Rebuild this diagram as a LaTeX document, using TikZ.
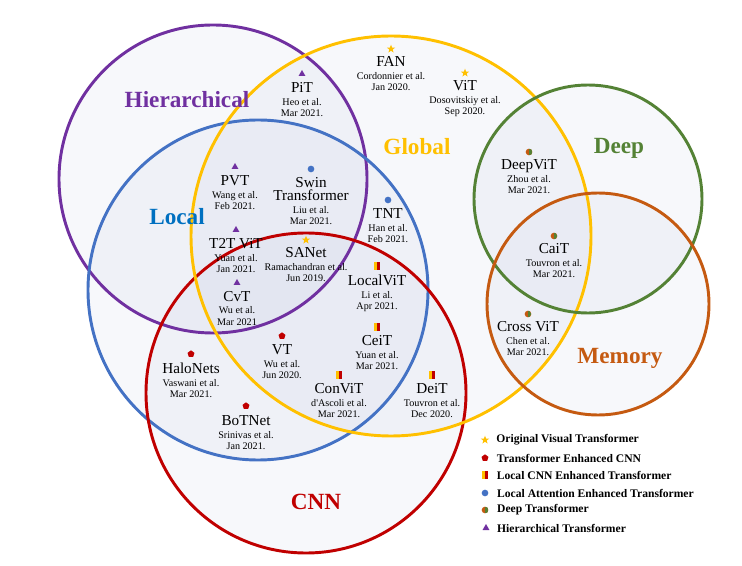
\documentclass[tikz,border=0pt]{standalone}
\usepackage{fontspec}
\setmainfont{Liberation Serif}
\usetikzlibrary{shapes.geometric}

\definecolor{hierpurple}{HTML}{7030A0}
\definecolor{globyellow}{HTML}{FFC000}
\definecolor{locblue}{HTML}{4472C4}
\definecolor{loclabel}{HTML}{0070C0}
\definecolor{cnnred}{HTML}{C00000}
\definecolor{deepgreen}{HTML}{548235}
\definecolor{memorange}{HTML}{C55A11}
\definecolor{venn}{RGB}{165,175,210}

\newcommand\modelfont{\fontsize{11.4}{13}\selectfont}

\tikzset{
    ring/.style={line width=2.2pt},
    area/.style={fill=venn, fill opacity=0.09},
    cat/.style={font=\fontsize{17.4}{20}\selectfont\bfseries, inner sep=0pt},
    entry/.style={font=\fontsize{7.6}{8.4}\selectfont, align=center, inner sep=0pt, label distance=#1},
    entry/.default=3.6pt,
    legtext/.style={font=\fontsize{8.7}{10}\selectfont\bfseries, inner sep=0pt, label distance=6.2pt},
    ovt/.style={star, star points=5, star point ratio=2.4, fill=globyellow, inner sep=0pt, minimum size=6.5pt},
    tecnn/.style={regular polygon, regular polygon sides=5, fill=cnnred, inner sep=0pt, minimum size=5.5pt},
    lcnn/.style={rectangle, fill=globyellow, inner sep=0pt, minimum width=4.5pt, minimum height=5.5pt,
        path picture={\fill[cnnred] (path picture bounding box.north) rectangle (path picture bounding box.south east);}},
    lattn/.style={circle, fill=locblue, inner sep=0pt, minimum size=5pt},
    deept/.style={circle, fill=memorange, inner sep=0pt, minimum size=5pt,
        path picture={\fill[deepgreen] (path picture bounding box.north) rectangle (path picture bounding box.south east);}},
    hiert/.style={regular polygon, regular polygon sides=3, fill=hierpurple, inner sep=0pt, minimum size=6pt}
}

\begin{document}
\begin{tikzpicture}[x=0.75pt, y=-0.75pt]
    \useasboundingbox (0,0) rectangle (742,566);
    % circles
    \fill[area] (213,179) circle[radius=154];
    \fill[area] (391,236) circle[radius=200];
    \fill[area] (258,290) circle[radius=170];
    \fill[area] (306,393) circle[radius=160];
    \fill[area] (588,199) circle[radius=114];
    \fill[area] (598,304) circle[radius=111];
    \draw[ring, hierpurple] (213,179) circle[radius=154];
    \draw[ring, locblue] (258,290) circle[radius=170];
    \draw[ring, cnnred] (306,393) circle[radius=160];
    \draw[ring, globyellow] (391,236) circle[radius=200];
    \draw[ring, deepgreen] (588,199) circle[radius=114];
    \draw[ring, memorange] (598,304) circle[radius=111];

    \path node[cat, text=hierpurple] (hier) at (187,100) {Hierarchical}
        node[cat, text=globyellow] (glob) at (417,147) {Global}
        node[cat, text=loclabel] (loc) at (177,217) {Local}
        node[cat, text=cnnred] (cnn) at (316,502) {CNN}
        node[cat, text=deepgreen] (deep) at (619,148) {Deep}
        node[cat, text=memorange] (mem) at (620,358) {Memory};

    % models
    \path node[hiert, label={[entry=4.6pt]below:{{\modelfont PiT}\\[1.2pt]Heo et al.\\Mar 2021.}}] (PiT) at (302,74) {}
        node[ovt, label={[entry]below:{{\modelfont FAN}\\[1.2pt]Cordonnier et al.\\Jan 2020.}}] (FAN) at (391,49) {}
        node[ovt, label={[entry]below:{{\modelfont ViT}\\[1.2pt]Dosovitskiy et al.\\Sep 2020.}}] (ViT) at (465,73) {}
        node[hiert, label={[entry=4.6pt]below:{{\modelfont PVT}\\[1.2pt]Wang et al.\\Feb 2021.}}] (PVT) at (235,167) {}
        node[lattn, label={[entry=3.4pt]below:{{\modelfont Swin}\\[1.2pt]{\modelfont Transformer}\\[1.2pt]Liu et al.\\Mar 2021.}}] (Swin) at (311,169) {}
        node[lattn, label={[entry=3.7pt]below:{{\modelfont TNT}\\[1.2pt]Han et al.\\Feb 2021.}}] (TNT) at (388,200) {}
        node[hiert, label={[entry=4.6pt]below:{{\modelfont T2T ViT}\\[1.2pt]Yuan et al.\\Jan 2021.}}] (T2T) at (236,230) {}
        node[ovt, label={[entry]below:{{\modelfont SANet}\\[1.2pt]Ramachandran et al.\\Jun 2019.}}] (SANet) at (306,240) {}
        node[lcnn, label={[entry=3.4pt]below:{{\modelfont LocalViT}\\[1.2pt]Li et al.\\Apr 2021.}}] (LocalViT) at (377,266) {}
        node[hiert, label={[entry=4.2pt]below:{{\modelfont CvT}\\[1.2pt]Wu et al.\\Mar 2021}}] (CvT) at (237,283) {}
        node[lcnn, label={[entry=3.4pt]below:{{\modelfont CeiT}\\[1.2pt]Yuan et al.\\Mar 2021.}}] (CeiT) at (377,327) {}
        node[tecnn, label={[entry=4pt]below:{{\modelfont VT}\\[1.2pt]Wu et al.\\Jun 2020.}}] (VT) at (282,336) {}
        node[tecnn, label={[entry=4pt]below:{{\modelfont HaloNets}\\[1.2pt]Vaswani et al.\\Mar 2021.}}] (HaloNets) at (191,354) {}
        node[lcnn, label={[entry=3.4pt]below:{{\modelfont ConViT}\\[1.2pt]d\textquotesingle Ascoli et al.\\Mar 2021.}}] (ConViT) at (339,375) {}
        node[lcnn, label={[entry=3.4pt]below:{{\modelfont DeiT}\\[1.2pt]Touvron et al.\\Dec 2020.}}] (DeiT) at (432,375) {}
        node[tecnn, label={[entry=4.6pt]below:{{\modelfont BoTNet}\\[1.2pt]Srinivas et al.\\Jan 2021.}}] (BoTNet) at (246,406) {}
        node[deept, label={[entry=3pt]below:{{\modelfont DeepViT}\\[1.2pt]Zhou et al.\\Mar 2021.}}] (DeepViT) at (529,152) {}
        node[deept, label={[entry=3pt]below:{{\modelfont CaiT}\\[1.2pt]Touvron et al.\\Mar 2021.}}] (CaiT) at (554,236) {}
        node[deept, label={[entry=2.6pt]below:{{\modelfont Cross ViT}\\[1.2pt]Chen et al.\\Mar 2021.}}] (CrossViT) at (528,314) {};

    % legend
    \path node[ovt, label={[legtext]right:Original Visual Transformer}] (lgovt) at (485,440) {}
        node[tecnn, label={[legtext]right:Transformer Enhanced CNN}] (lgtecnn) at (485,458) {}
        node[lcnn, label={[legtext]right:Local CNN Enhanced Transformer}] (lglcnn) at (485,475) {}
        node[lattn, label={[legtext]right:Local Attention Enhanced Transformer}] (lglattn) at (485,493) {}
        node[deept, label={[legtext]right:Deep Transformer}] (lgdeep) at (485,510) {}
        node[hiert, label={[legtext]right:Hierarchical Transformer}] (lghier) at (486,528) {};
\end{tikzpicture}
\end{document}
